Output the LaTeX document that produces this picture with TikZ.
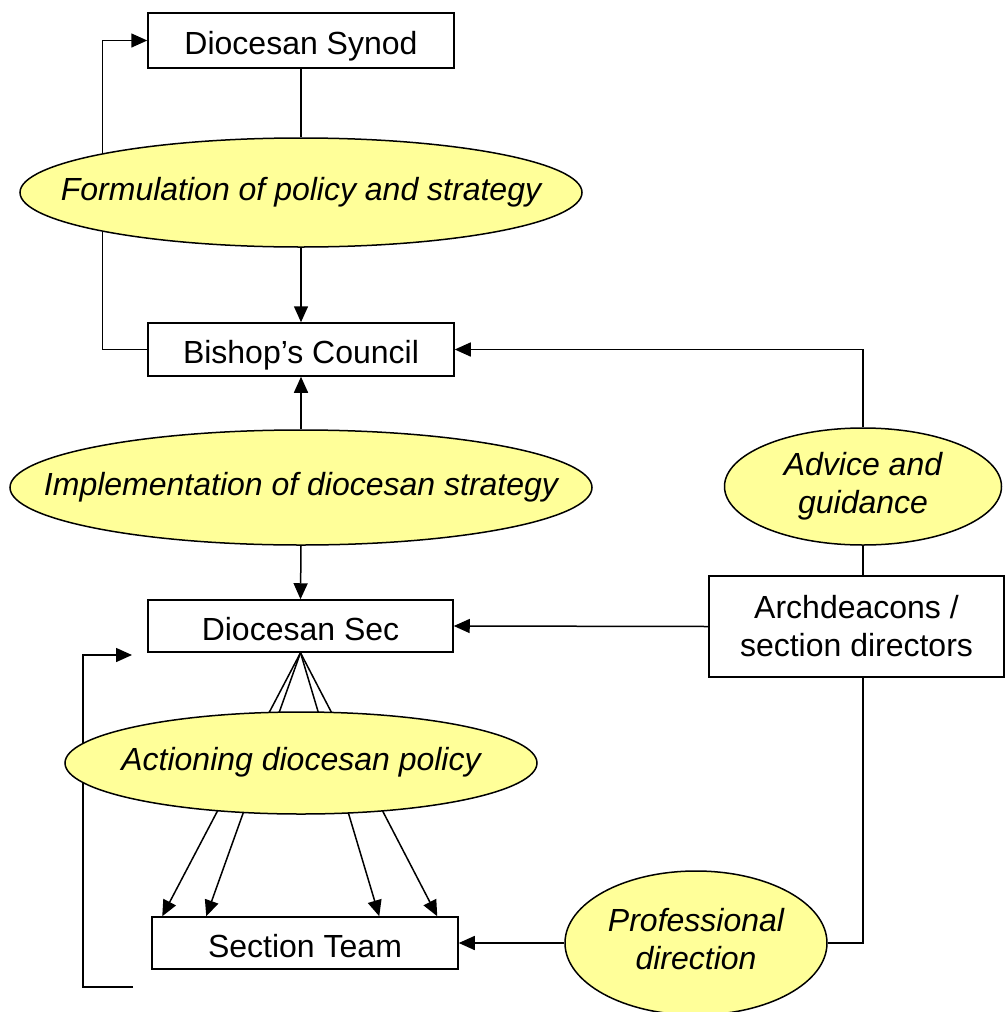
\documentclass[tikz,border=0pt]{standalone}
\usepackage{fontspec}
\setmainfont{Liberation Sans}
\usetikzlibrary{shapes.geometric,arrows.meta,backgrounds}
\definecolor{lemon}{HTML}{FFFF99}
% ellipse text is boxed at zero width so the given ellipse size is kept
\newcommand{\bubtext}[1]{\makebox[0pt]{\begin{tabular}{@{}c@{}}#1\end{tabular}}}
\tikzset{
  box/.style={draw,line width=1.5pt,rectangle,inner sep=0pt,font=\fontsize{32}{38}\selectfont,align=center},
  onebox/.style={box,text height=28pt,text depth=0pt},
  bubble/.style={draw,line width=1.5pt,ellipse,fill=lemon,inner sep=0pt,font=\fontsize{32}{38}\selectfont\itshape},
  link/.style={line width=1.5pt},
  arr/.style={line width=1.5pt,-{Triangle[length=16pt,width=14pt]}}
}
\begin{document}
\begin{tikzpicture}[x=1pt,y=-1pt]
\useasboundingbox (0,0) rectangle (1005,1012);

% boxes
\node[onebox,minimum width=306pt,minimum height=55pt] (synod) at (301,40.5) {Diocesan Synod};
\node[onebox,minimum width=306pt,minimum height=53pt] (council) at (301,349.5) {Bishop’s Council};
\node[onebox,minimum width=305pt,minimum height=52pt] (sec) at (300.5,626) {Diocesan Sec};
\node[onebox,minimum width=306pt,minimum height=52pt] (team) at (305,943) {Section Team};
\node[box,minimum width=295pt,minimum height=101pt] (arch) at (856.5,626.5) {Archdeacons /\\section directors};

% process ellipses
\node[bubble,minimum width=562pt,minimum height=109pt] (form) at (301,192.5) {\bubtext{Formulation of policy and strategy}};
\node[bubble,minimum width=582pt,minimum height=115pt] (impl) at (301,487.5) {\bubtext{Implementation of diocesan strategy}};
\node[bubble,minimum width=472pt,minimum height=102pt] (action) at (301,763) {\bubtext{Actioning diocesan policy}};
\node[bubble,minimum width=277pt,minimum height=117pt] (advice) at (863,486.5) {\bubtext{Advice and\\guidance}};
\node[bubble,minimum width=262pt,minimum height=144pt] (prof) at (696,943) {\bubtext{Professional\\direction}};

\coordinate (loopend) at (133,987);
\coordinate (looptip) at (132,655);

\begin{pgfonlayer}{background}
  % feedback loops on the left
  \draw[arr] (council.west) -- ++(-45,0) |- (synod.west);
  \draw[arr] (loopend) -- ++(-50,0) |- (looptip);
  % fan from the secretariat to the section team
  \draw[arr] (sec.south) -- ([xshift=11pt]team.north west);
  \draw[arr] (sec.south) -- ([xshift=55pt]team.north west);
  \draw[arr] (sec.south) -- ([xshift=228pt]team.north west);
  \draw[arr] (sec.south) -- ([xshift=286pt]team.north west);
\end{pgfonlayer}

% main vertical flow
\draw[link] (synod.south) -- (form.north);
\draw[arr] (form.south) -- (council.north);
\draw[arr] (impl.north) -- (council.south);
\draw[arr] (impl.south) -- (sec.north);

% right-hand column
\draw[arr] (advice.north) |- (council.east);
\draw[link] (advice.south) -- (advice.south |- arch.north);
\draw[arr] (arch.west) -- (sec.east);
\draw[link] (arch.south -| advice.south) |- (prof.east);
\draw[arr] (prof.west) -- (team.east);
\end{tikzpicture}
\end{document}
